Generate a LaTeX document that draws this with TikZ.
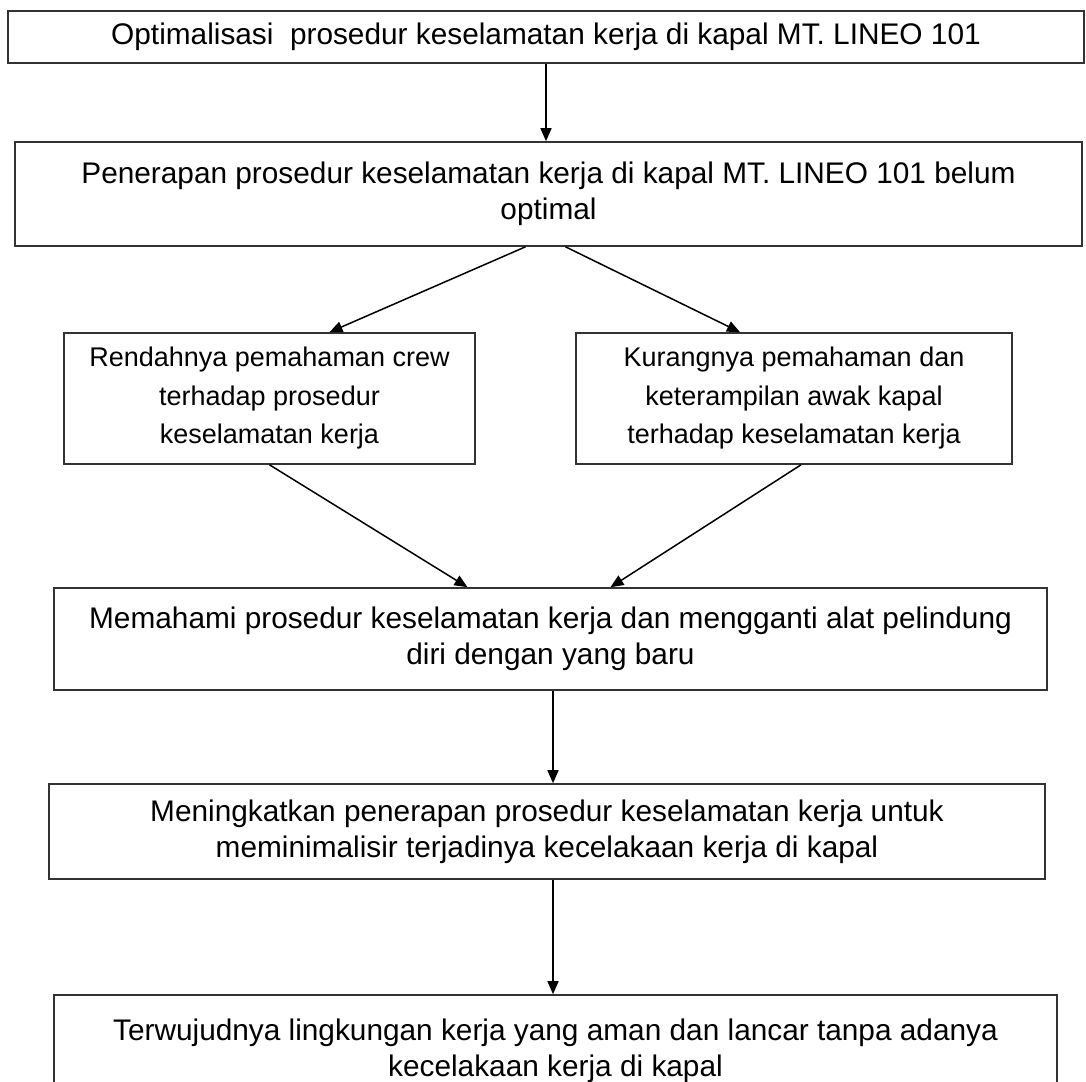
\documentclass[tikz,border=0pt]{standalone}
\usepackage{fontspec}
\setmainfont{Liberation Sans}
\usetikzlibrary{arrows.meta}

\begin{document}
\begin{tikzpicture}[x=1pt, y=-1pt,
    box/.style={draw=black!80, line width=1.6pt, align=center, inner sep=0pt,
      font=\fontsize{29.8}{36}\selectfont},
    sidebox/.style={box, font=\fontsize{27}{38.5}\selectfont},
    >={Triangle[length=13pt, width=11pt]}]

  \useasboundingbox[fill=white] (0,0) rectangle (1086,1081);

  \node[box, minimum width=1076pt, minimum height=52pt]  (0) at (546,37)
    {Optimalisasi\ \ prosedur keselamatan kerja di kapal MT. LINEO 101};
  \node[box, minimum width=1067pt, minimum height=104pt] (1) at (548.5,194)
    {Penerapan prosedur keselamatan kerja di kapal MT. LINEO 101 belum\\optimal};
  \node[sidebox, minimum width=411pt, minimum height=131pt]  (2) at (269.5,398.5)
    {Rendahnya pemahaman crew\\terhadap prosedur\\keselamatan kerja};
  \node[sidebox, minimum width=436pt, minimum height=131pt]  (3) at (794,398.5)
    {Kurangnya pemahaman dan\\keterampilan awak kapal\\terhadap keselamatan kerja};
  \node[box, minimum width=993pt, minimum height=102pt]  (4) at (550.5,639)
    {Memahami prosedur keselamatan kerja dan mengganti alat pelindung\\diri dengan yang baru};
  \node[box, minimum width=996pt, minimum height=95pt]   (5) at (547,831.5)
    {Meningkatkan penerapan prosedur keselamatan kerja untuk\\meminimalisir terjadinya kecelakaan kerja di kapal};
  \node[box, minimum width=1003pt, minimum height=112pt] (6) at (555.5,1051)
    {Terwujudnya lingkungan kerja yang aman dan lancar tanpa adanya\\kecelakaan kerja di kapal};

  % Arrows
  \draw[->, line width=1.5pt]  (0.south) -- (0.south |- 1.north);
  \draw[->, line width=1.5pt]  ([xshift=-23pt]1.south) -- ([xshift=60pt]2.north);
  \draw[->, line width=1.5pt]  ([xshift=17pt]1.south) -- ([xshift=-54pt]3.north);
  \draw[->, line width=1.5pt]  (2.south) -- ([xshift=-83pt]4.north);
  \draw[->, line width=1.5pt]  ([xshift=7pt]3.south) -- ([xshift=60pt]4.north);
  \draw[->, line width=1.5pt]  ([xshift=2.5pt]4.south) -- ([xshift=2.5pt]4.south |- 5.north);
  \draw[->, line width=1.5pt]  ([xshift=6pt]5.south) -- ([xshift=6pt]5.south |- 6.north);

\end{tikzpicture}
\end{document}
